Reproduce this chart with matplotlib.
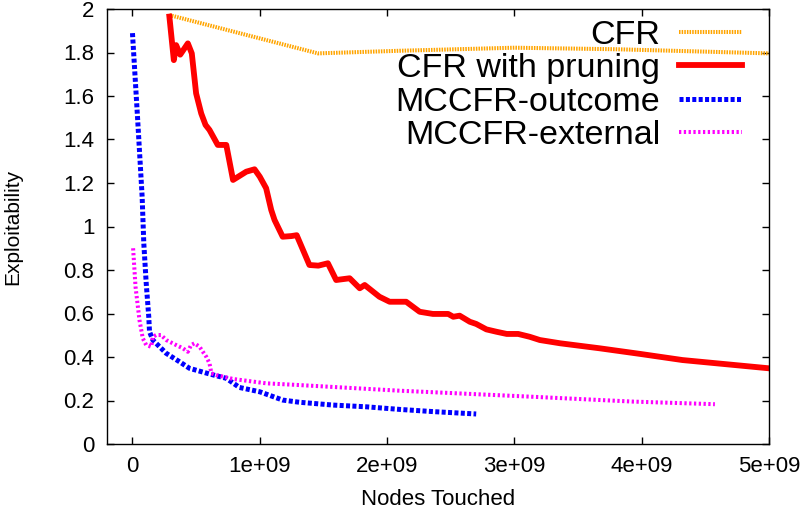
import numpy as np
import matplotlib
matplotlib.use("Agg")
import matplotlib.pyplot as plt
from matplotlib.ticker import FuncFormatter

# node counts in units of 1e9, exploitability
cfr_x = [0.29, 1.457, 2.1, 3.0, 3.8, 5.0]
cfr_y = [1.972, 1.796, 1.808, 1.822, 1.815, 1.796]

prune_x = [0.29, 0.325, 0.343, 0.375, 0.435, 0.466, 0.50, 0.54, 0.574, 0.605,
           0.67, 0.737, 0.79, 0.894, 0.959, 1.0, 1.05, 1.09, 1.116, 1.18,
           1.248, 1.29, 1.39, 1.46, 1.535, 1.60, 1.706, 1.785, 1.824, 1.94,
           2.02, 2.15, 2.256, 2.36, 2.48, 2.52, 2.57, 2.65, 2.70, 2.78,
           2.86, 2.94, 3.03, 3.12, 3.2, 3.36, 3.67, 3.99, 4.32, 5.0]
prune_y = [1.965, 1.765, 1.834, 1.79, 1.842, 1.796, 1.612, 1.52, 1.467, 1.444,
           1.375, 1.375, 1.214, 1.252, 1.263, 1.229, 1.176, 1.076, 1.03, 0.953,
           0.956, 0.96, 0.823, 0.82, 0.831, 0.754, 0.762, 0.716, 0.731, 0.677,
           0.654, 0.654, 0.608, 0.598, 0.598, 0.585, 0.59, 0.562, 0.552, 0.527,
           0.516, 0.506, 0.506, 0.493, 0.478, 0.463, 0.44, 0.414, 0.386, 0.348]

outcome_x = [0.0, 0.04, 0.076, 0.089, 0.108, 0.128, 0.134, 0.16, 0.265, 0.37,
             0.448, 0.605, 0.737, 0.84, 1.0, 1.18, 1.31, 1.575, 1.837, 2.1,
             2.36, 2.70]
outcome_y = [1.889, 1.5, 1.137, 0.923, 0.739, 0.585, 0.516, 0.478, 0.417, 0.378,
             0.348, 0.322, 0.302, 0.26, 0.24, 0.202, 0.192, 0.179, 0.171, 0.159,
             0.149, 0.138]

external_x = [0.005, 0.024, 0.055, 0.081, 0.108, 0.147, 0.16, 0.186, 0.225, 0.265,
              0.343, 0.396, 0.435, 0.46, 0.487, 0.527, 0.553, 0.58, 0.605, 0.62,
              0.658, 0.79, 1.05, 1.31, 2.1, 3.15, 3.93, 4.575]
external_y = [0.90, 0.723, 0.57, 0.486, 0.455, 0.447, 0.493, 0.501, 0.501, 0.478,
              0.455, 0.44, 0.424, 0.455, 0.463, 0.447, 0.424, 0.401, 0.371, 0.325,
              0.317, 0.299, 0.279, 0.271, 0.245, 0.217, 0.195, 0.183]

plt.rcParams['font.family'] = ['Liberation Sans', 'DejaVu Sans']
plt.rcParams['lines.scale_dashes'] = False

fig = plt.figure(figsize=(8.05, 5.13), dpi=100)
ax = fig.add_axes([107/805, 1 - 444/513, 662/805, 435/513])

sc = 1e9
ax.plot(np.array(cfr_x)*sc, cfr_y, color='#FFA500', lw=2.9,
        ls=(0, (1.1, 0.8)), dash_capstyle='butt', label='CFR')
ax.plot(np.array(prune_x)*sc, prune_y, color='#FF0000', lw=4.2,
        solid_joinstyle='round', label='CFR with pruning')
ax.plot(np.array(outcome_x)*sc, outcome_y, color='#0000FF', lw=3.6,
        ls=(0, (2.9, 1.7)), dash_capstyle='butt', label='MCCFR-outcome')
ax.plot(np.array(external_x)*sc, external_y, color='#FF00FF', lw=2.9,
        ls=(0, (1.65, 1.8)), dash_capstyle='butt', label='MCCFR-external')

ax.set_xlim(-0.2e9, 5e9)
ax.set_ylim(0, 2)
ax.set_xticks([0, 1e9, 2e9, 3e9, 4e9, 5e9])
ax.set_yticks(np.arange(0, 2.01, 0.2))
ax.xaxis.set_major_formatter(FuncFormatter(lambda v, p: '0' if v == 0 else f'{v:.0e}'))
ax.yaxis.set_major_formatter(FuncFormatter(lambda v, p: f'{v:g}'))
ax.tick_params(direction='in', length=5, width=1, top=True, right=True,
               labelsize=16, pad=9)
for s in ax.spines.values():
    s.set_linewidth(1.0)

ax.set_xlabel('Nodes Touched', fontsize=16, labelpad=8)
ax.set_ylabel('Exploitability', fontsize=15, labelpad=30)

leg = ax.legend(loc='upper right', bbox_to_anchor=(742/805, 1 - 20/513),
                bbox_transform=fig.transFigure, frameon=False, markerfirst=False,
                fontsize=24.5, handlelength=1.85, handletextpad=0.55,
                labelspacing=0.07, borderpad=0, borderaxespad=0)

fig.savefig('out.png', dpi=100)
